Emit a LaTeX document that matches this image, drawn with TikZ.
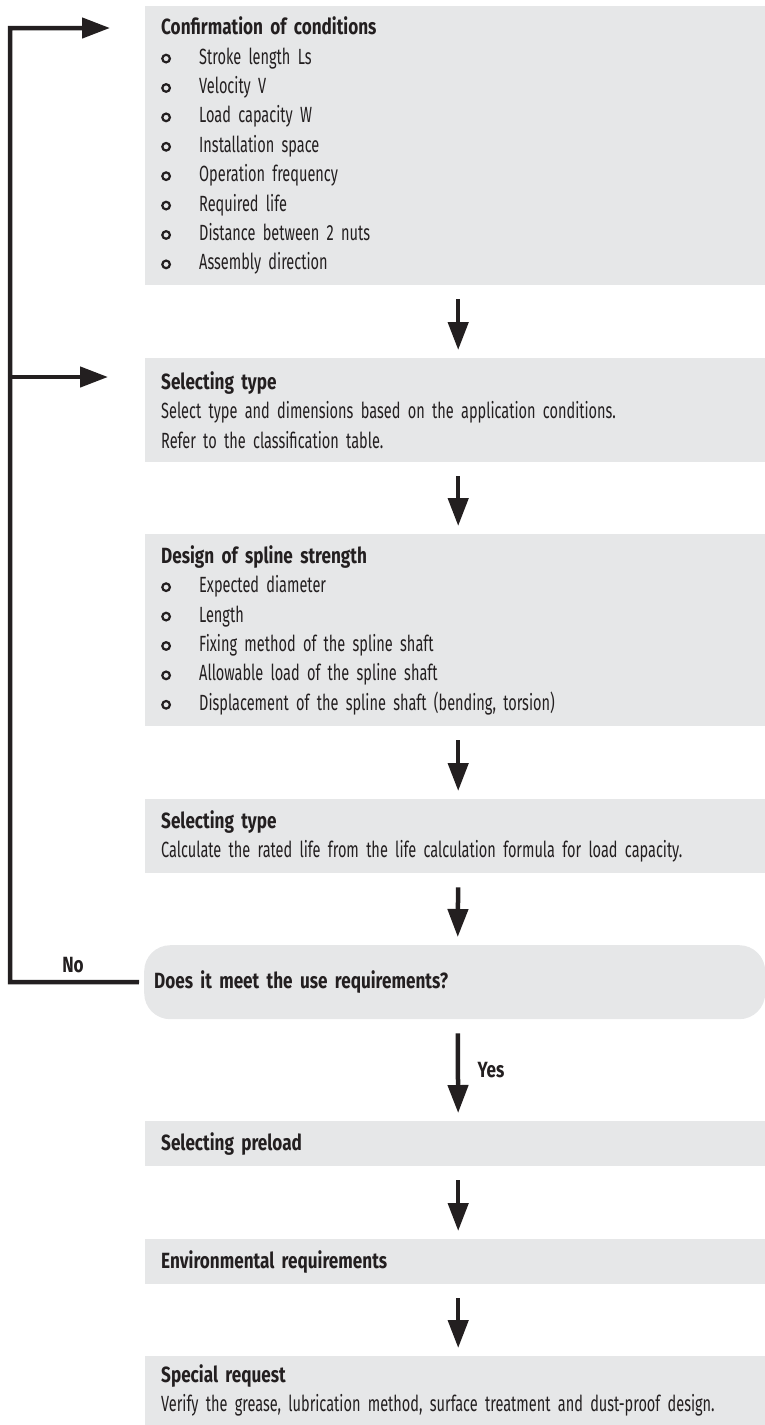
\documentclass[tikz,border=0pt]{standalone}
\usepackage{fontspec}
\setmainfont{Fira Sans}[FakeStretch=0.66]
\newfontfamily\headfont{Fira Sans}[FakeStretch=0.78]
\usetikzlibrary{arrows.meta}

\definecolor{boxgray}{HTML}{E6E7E8}
\definecolor{ink}{HTML}{231F20}

% open bullet ring, list item and step title
\newcommand{\ring}{\tikz[baseline=-5.5pt]\draw[ink, line width=2.2pt] (0,0) circle (3.8pt);}
\newcommand{\itm}[1]{\makebox[38pt][l]{\ring}#1}
\newcommand{\hd}[1]{{\headfont\bfseries #1}}

\begin{document}
\begin{tikzpicture}[x=1pt, y=1pt, >={Triangle[length=28pt, width=20pt]},
    box/.style={fill=boxgray, text=ink, anchor=north west, align=left,
      text width=588pt, inner xsep=16pt, inner ysep=0pt,
      font=\fontsize{22}{29.4}\selectfont},
    flow/.style={->, ink, line width=4.5pt, shorten <=14pt, shorten >=8pt},
    back/.style={->, ink, line width=4.5pt},
    lbl/.style={text=ink, font=\fontsize{22}{24}\headfont\bfseries}]
  \useasboundingbox (0,0) rectangle (765,-1425);

  % Steps
  \node[box, minimum height=279pt] (conf) at (145,-6) {\hd{Confirmation of conditions}\\
    \itm{Stroke length Ls}\\
    \itm{Velocity V}\\
    \itm{Load capacity W}\\
    \itm{Installation space}\\
    \itm{Operation frequency}\\
    \itm{Required life}\\
    \itm{Distance between 2 nuts}\\
    \itm{Assembly direction}};
  \node[box, minimum height=104pt] (seltype) at (145,-358) {\hd{Selecting type}\\
    Select type and dimensions based on the application conditions.\\
    Refer to the classification table.};
  \node[box, minimum height=192pt] (design) at (145,-534) {\hd{Design of spline strength}\\
    \itm{Expected diameter}\\
    \itm{Length}\\
    \itm{Fixing method of the spline shaft}\\
    \itm{Allowable load of the spline shaft}\\
    \itm{Displacement of the spline shaft (bending, torsion)}};
  \node[box, minimum height=74pt] (life) at (145,-799) {\hd{Selecting type}\\
    Calculate the rated life from the life calculation formula for load capacity.};
  \node[box, minimum height=74pt, rounded corners=26pt, inner xsep=10pt,
    text width=601pt] (dec) at (144,-945) {\hd{Does it meet the use requirements?}};
  \node[box, minimum height=45pt] (preload) at (145,-1121) {\hd{Selecting preload}};
  \node[box, minimum height=45pt] (env) at (145,-1239) {\hd{Environmental requirements}};
  \node[box, minimum height=69pt] (special) at (145,-1356) {\hd{Special request}\\
    Verify the grease, lubrication method, surface treatment and dust-proof design.};

  % Down arrows
  \foreach \a/\b in {conf/seltype, seltype/design, design/life, life/dec, preload/env, env/special} {
      \draw[flow] ([xshift=3pt]\a.south) -- ([xshift=3pt]\b.north);
    }
  \draw[flow] ([xshift=3pt]dec.south) -- node[lbl, right, xshift=14pt] (yes) {Yes} ([xshift=3pt]preload.north);

  % Feedback loop
  \coordinate (bend) at (10,-982);
  \coordinate (in1) at (110,-28);
  \coordinate (in2) at (108,-377);
  \draw[back, shorten <=5pt] (dec.west) -- node[lbl, above, xshift=-4pt, yshift=4pt] (no) {No} (bend) |- (in1);
  \draw[back] (bend |- in2) -- (in2);
\end{tikzpicture}
\end{document}
